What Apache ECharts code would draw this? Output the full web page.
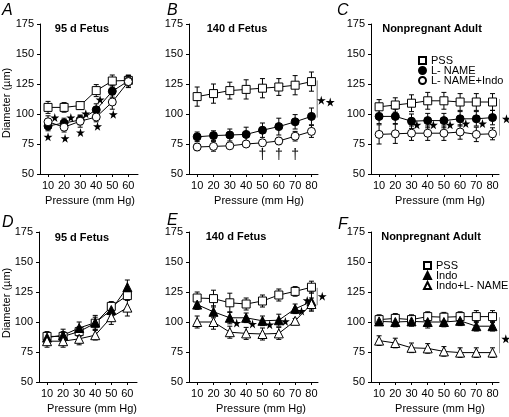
<!DOCTYPE html>
<html><head><meta charset="utf-8">
<script src="https://cdn.jsdelivr.net/npm/echarts@6/dist/echarts.min.js"></script>
<style>html,body{margin:0;padding:0;background:#fff}#c{width:509px;height:417px}</style>
</head><body><div id="c"></div>
<script>
// ---------- data ----------
const x6 = [10, 20, 30, 40, 50, 60];
const x8 = [10, 20, 30, 40, 50, 60, 70, 80];
const yTicks = [50, 75, 100, 125, 150, 175];

// Panel A: 95 d fetus
const A_pss = [105.5, 105.5, 107, 119.5, 127.5, 128];
const A_pssErr = [5, 4, 3, 5, 5, 4];
const A_lname = [90, 92.5, 95, 103.5, 119, 127.5];
const A_lnameErr = [4, 4, 4, 5, 5, 5];
const A_lnIndo = [93.5, 89, 94, 97.5, 110, 127];
const A_lnIndoErr = [5, 4, 5, 4, 6, 5];
const A_stars = [[14.2, 97], [24.2, 97], [33.5, 100.3], [42.4, 112], [10, 81], [20.6, 79.7], [30.2, 84.6], [40.8, 89.8], [50.6, 99.7]];

// Panel B: 140 d fetus
const B_pss = [114.5, 117, 119.5, 120.5, 121.5, 122.5, 124, 127];
const B_pssErr = [8, 8, 7, 8, 8, 7, 8, 8];
const B_lname = [81, 82, 82.5, 83, 86.5, 89.5, 93.5, 98];
const B_lnameErr = [4, 4, 5, 6, 6, 7, 6, 7];
const B_lnIndo = [72.5, 73, 73.5, 75, 76, 77.5, 81.5, 85.5];
const B_lnIndoErr = [3, 4, 2, 2, 2, 3, 4, 5];
const B_daggers = [[50, 65.5], [60, 65.5], [70, 66]];
const B_brackets = [[[83.5, 128], [83.5, 97]], [[88.5, 128], [88.5, 87]]];
const B_bracketStars = [[86, 111.5], [91.5, 110]];

// Panel C: nonpregnant adult
const C_pss = [106, 107.5, 109, 111, 111, 110, 110, 110];
const C_pssErr = [6, 6, 7, 7, 7, 7, 7, 7];
const C_lname = [98, 98, 94, 94.5, 94.5, 96, 96, 97];
const C_lnameErr = [6, 6, 6, 6, 6, 6, 6, 6];
const C_lnIndo = [83, 83.5, 84, 84, 84, 85, 83, 83.5];
const C_lnIndoErr = [8, 8, 6, 6, 6, 6, 6, 5];
const C_stars = [[33.3, 91], [43.5, 91], [53.8, 91], [63.5, 92], [73.8, 92]];
const C_brackets = [[[84.5, 112.5], [84.5, 82]]];
const C_bracketStars = [[88.6, 96]];

// Panel D: 95 d fetus
const D_pss = [88, 88, 92, 99, 113, 122];
const D_pssErr = [4, 4, 4, 5, 4, 4];
const D_indo = [87, 89, 95, 99.5, 110, 129];
const D_indoErr = [4, 5, 5, 6, 5, 6];
const D_indoLn = [84, 84, 86, 89, 104, 112];
const D_indoLnErr = [5, 5, 5, 4, 6, 7];

// Panel E: 140 d fetus
const E_pss = [120, 119.5, 116, 115, 117.5, 122.5, 125.5, 129];
const E_pssErr = [5, 7, 8, 5, 5, 5, 4, 5];
const E_indo = [114.5, 108.5, 103.5, 103.5, 101, 101.5, 111, 117];
const E_indoErr = [4, 5, 5, 4, 4, 5, 4, 8];
const E_indoLn = [100, 100, 91.5, 90.5, 90, 90.5, 101, 115];
const E_indoLnErr = [5, 6, 5, 5, 5, 5, 2, 5];
const E_stars = [[34.2, 99.2], [43.9, 98.4], [54.4, 97.8], [64, 100.5], [73.9, 109.1], [77.4, 118]];
const E_brackets = [[[83.5, 128.5], [83.5, 114]]];
const E_bracketStars = [[86.6, 121.5]];

// Panel F: nonpregnant adult
const F_pss = [102, 103, 102, 104.5, 104, 104.5, 104.5, 104.5];
const F_pssErr = [4, 4, 4, 4, 4, 4, 5, 5];
const F_indo = [100.5, 100, 100.5, 100, 100, 101, 96.5, 96.5];
const F_indoErr = [3, 4, 4, 5, 4, 4, 4, 4];
const F_indoLn = [84.5, 82.5, 78.5, 78, 75.5, 74.5, 74.5, 74.5];
const F_indoLnErr = [4, 4, 4, 4, 4, 4, 4, 4];
const F_brackets = [[[84.5, 104], [84.5, 74]]];
const F_bracketStars = [[88.2, 86]];

// ---------- build ----------
const FONT = 'Liberation Sans, Arial, Helvetica, sans-serif';
const FS = 11;
const STAR = 'path://M50,0 L61,35 L98,35 L68,57 L79,91 L50,70 L21,91 L32,57 L2,35 L39,35 Z';
const grids = [
  {left: 40, top: 24, width: 98, height: 150},
  {left: 189, top: 24, width: 129, height: 150},
  {left: 371, top: 24, width: 128, height: 150},
  {left: 39, top: 232, width: 98, height: 150},
  {left: 189, top: 232, width: 129, height: 150},
  {left: 371, top: 232, width: 128, height: 150}
];
const xMax = [66, 84, 84, 66, 84, 84];
const xTickSets = [x6, x8, x8, x6, x8, x8];

const xAxes = grids.map((g, i) => ({
  type: 'value', gridIndex: i, min: 5, max: xMax[i],
  axisLine: {lineStyle: {color: '#000', width: 1}},
  axisTick: {length: 3, lineStyle: {color: '#000'}, customValues: xTickSets[i]},
  axisLabel: {customValues: xTickSets[i], color: '#000', fontSize: FS, fontFamily: FONT, margin: 6},
  splitLine: {show: false}
}));
const yAxes = grids.map((g, i) => ({
  type: 'value', gridIndex: i, min: 50, max: 175, interval: 25,
  axisLine: {show: true, lineStyle: {color: '#000', width: 1}},
  axisTick: {show: true, length: 3, lineStyle: {color: '#000'}},
  axisLabel: {color: '#000', fontSize: FS, fontFamily: FONT, margin: 6},
  splitLine: {show: false}
}));

const styles = {
  openSquare: {symbol: 'rect', size: 8, fill: '#fff'},
  filledCircle: {symbol: 'circle', size: 8, fill: '#000'},
  openCircle: {symbol: 'circle', size: 8, fill: '#fff'},
  filledTri: {symbol: 'triangle', size: 9, fill: '#000'},
  openTri: {symbol: 'triangle', size: 9, fill: '#fff'}
};

const series = [];
function errSeries(gi, xs, ys, es) {
  series.push({
    type: 'custom', xAxisIndex: gi, yAxisIndex: gi, z: 1, silent: true,
    data: xs.map((x, k) => [x, ys[k] - es[k], ys[k] + es[k]]),
    renderItem: function (params, api) {
      const lo = api.coord([api.value(0), api.value(1)]);
      const hi = api.coord([api.value(0), api.value(2)]);
      const c = 2.5;
      const st = {stroke: '#000', lineWidth: 1};
      return {type: 'group', children: [
        {type: 'line', shape: {x1: lo[0], y1: lo[1], x2: hi[0], y2: hi[1]}, style: st},
        {type: 'line', shape: {x1: lo[0] - c, y1: lo[1], x2: lo[0] + c, y2: lo[1]}, style: st},
        {type: 'line', shape: {x1: hi[0] - c, y1: hi[1], x2: hi[0] + c, y2: hi[1]}, style: st}
      ]};
    }
  });
}
function lineSeries(gi, name, xs, ys, es, sty) {
  errSeries(gi, xs, ys, es);
  series.push({
    type: 'line', name: name, xAxisIndex: gi, yAxisIndex: gi, z: 3,
    data: xs.map((x, k) => [x, ys[k]]),
    symbol: sty.symbol, symbolSize: sty.size, showAllSymbol: true,
    lineStyle: {color: '#000', width: 1},
    itemStyle: {color: sty.fill, borderColor: '#000', borderWidth: 1, opacity: 1},
    emphasis: {disabled: true}
  });
}
function starSeries(gi, pts, size) {
  series.push({
    type: 'scatter', xAxisIndex: gi, yAxisIndex: gi, z: 4, clip: false, silent: true,
    data: pts, symbol: STAR, symbolSize: size || 9,
    itemStyle: {color: '#000', opacity: 1}
  });
}
function bracketSeries(gi, brs) {
  brs.forEach(b => series.push({
    type: 'line', xAxisIndex: gi, yAxisIndex: gi, clip: false, silent: true,
    data: b, symbol: 'none', lineStyle: {color: '#777', width: 1}
  }));
}

lineSeries(0, 'PSS', x6, A_pss, A_pssErr, styles.openSquare);
lineSeries(0, 'L- NAME', x6, A_lname, A_lnameErr, styles.filledCircle);
lineSeries(0, 'L- NAME+Indo', x6, A_lnIndo, A_lnIndoErr, styles.openCircle);
starSeries(0, A_stars);

lineSeries(1, 'PSS', x8, B_pss, B_pssErr, styles.openSquare);
lineSeries(1, 'L- NAME', x8, B_lname, B_lnameErr, styles.filledCircle);
lineSeries(1, 'L- NAME+Indo', x8, B_lnIndo, B_lnIndoErr, styles.openCircle);
bracketSeries(1, B_brackets);
starSeries(1, B_bracketStars);
series.push({
  type: 'scatter', xAxisIndex: 1, yAxisIndex: 1, silent: true, clip: false,
  data: B_daggers, symbolSize: 1, itemStyle: {color: 'rgba(0,0,0,0)', opacity: 1},
  label: {show: true, position: 'inside', formatter: '\u2020', color: '#000', fontSize: 14, fontFamily: FONT}
});

lineSeries(2, 'PSS', x8, C_pss, C_pssErr, styles.openSquare);
lineSeries(2, 'L- NAME', x8, C_lname, C_lnameErr, styles.filledCircle);
lineSeries(2, 'L- NAME+Indo', x8, C_lnIndo, C_lnIndoErr, styles.openCircle);
starSeries(2, C_stars);
bracketSeries(2, C_brackets);
starSeries(2, C_bracketStars);

lineSeries(3, 'PSS', x6, D_pss, D_pssErr, styles.openSquare);
lineSeries(3, 'Indo', x6, D_indo, D_indoErr, styles.filledTri);
lineSeries(3, 'Indo+L- NAME', x6, D_indoLn, D_indoLnErr, styles.openTri);

lineSeries(4, 'PSS', x8, E_pss, E_pssErr, styles.openSquare);
lineSeries(4, 'Indo', x8, E_indo, E_indoErr, styles.filledTri);
lineSeries(4, 'Indo+L- NAME', x8, E_indoLn, E_indoLnErr, styles.openTri);
starSeries(4, E_stars);
bracketSeries(4, E_brackets);
starSeries(4, E_bracketStars);

lineSeries(5, 'PSS', x8, F_pss, F_pssErr, styles.openSquare);
lineSeries(5, 'Indo', x8, F_indo, F_indoErr, styles.filledTri);
lineSeries(5, 'Indo+L- NAME', x8, F_indoLn, F_indoLnErr, styles.openTri);
bracketSeries(5, F_brackets);
starSeries(5, F_bracketStars);

function txt(x, y, text, opt) {
  return Object.assign({type: 'text', x: x, y: y, silent: true,
    style: Object.assign({text: text, fill: '#000', fontFamily: FONT, fontSize: FS,
      textAlign: 'center', textVerticalAlign: 'middle'}, (opt && opt.style) || {})},
    (opt && opt.el) || {});
}
const letter = {style: {fontSize: 16, fontStyle: 'italic', textAlign: 'left', textVerticalAlign: 'top'}};
const bold = {style: {fontWeight: 'bold'}};
const graphic = [
  txt(2, 3, 'A', letter), txt(167, 3, 'B', letter), txt(337, 3, 'C', letter),
  txt(2, 215, 'D', letter), txt(167, 213, 'E', letter), txt(338, 217, 'F', letter),
  txt(82, 29, '95 d Fetus', bold), txt(237, 29, '140 d Fetus', bold), txt(432, 29, 'Nonpregnant Adult', bold),
  txt(82, 238, '95 d Fetus', bold), txt(236, 237, '140 d Fetus', bold), txt(431, 237, 'Nonpregnant Adult', bold),
  txt(90, 201, 'Pressure (mm Hg)'), txt(259, 201, 'Pressure (mm Hg)'), txt(440, 201, 'Pressure (mm Hg)'),
  txt(92, 409, 'Pressure (mm Hg)'), txt(261, 409, 'Pressure (mm Hg)'), txt(440, 409, 'Pressure (mm Hg)'),
  txt(7, 103, 'Diameter (\u00b5m)', {el: {rotation: Math.PI / 2}}),
  txt(7, 303, 'Diameter (\u00b5m)', {el: {rotation: Math.PI / 2}})
];

const legendBase = {
  orient: 'vertical', itemGap: -1, itemWidth: 7, itemHeight: 7, selectedMode: false, padding: 0,
  textStyle: {color: '#000', fontSize: FS, fontFamily: FONT}
};
const legend = [
  Object.assign({}, legendBase, {left: 418, top: 55,
    data: [{name: 'PSS', icon: 'rect'}, {name: 'L- NAME', icon: 'circle'}, {name: 'L- NAME+Indo', icon: 'circle'}]}),
  Object.assign({}, legendBase, {left: 423, top: 260,
    data: [{name: 'PSS', icon: 'rect'}, {name: 'Indo', icon: 'triangle'}, {name: 'Indo+L- NAME', icon: 'triangle'}]})
];

const chart = echarts.init(document.getElementById('c'), null, {renderer: 'canvas'});
chart.setOption({
  animation: false, backgroundColor: '#fff',
  grid: grids, xAxis: xAxes, yAxis: yAxes, series: series, legend: legend, graphic: graphic
});
</script></body></html>
